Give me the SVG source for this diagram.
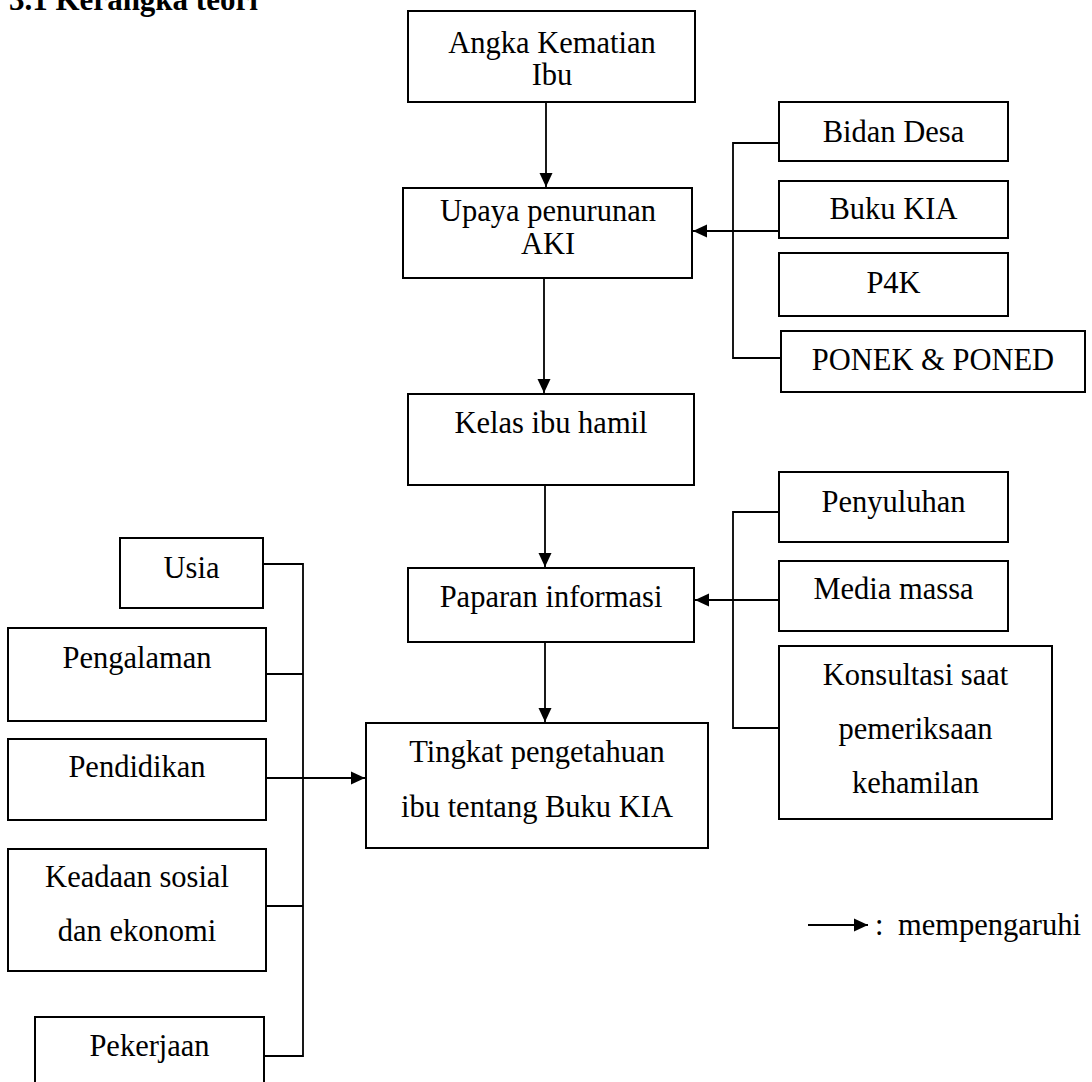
<svg xmlns="http://www.w3.org/2000/svg" width="1092" height="1082" viewBox="0 0 1092 1082">
<style>
.box{fill:#fff;stroke:#000;stroke-width:2}
.t{font-family:"Liberation Serif","Times New Roman",serif;font-size:30.5px;fill:#000;text-anchor:middle}
.ln{fill:none;stroke:#000;stroke-width:1.8}
.title{font-family:"Liberation Serif","Times New Roman",serif;font-size:31px;font-weight:bold;fill:#000}
</style>
<defs>
<marker id="ah" markerUnits="userSpaceOnUse" markerWidth="15" markerHeight="15" viewBox="0 0 15 15" refX="14" refY="7.5" orient="auto">
<path d="M0,1 L14,7.5 L0,14 Z" fill="#000"/>
</marker>
</defs>
<rect width="1092" height="1082" fill="#fff"/>
<text class="title" x="9" y="10">3.1 Kerangka teori</text>

<g id="connectors">
<line class="ln" x1="546" y1="102" x2="546" y2="187" marker-end="url(#ah)"/>
<line class="ln" x1="544" y1="278" x2="544" y2="393" marker-end="url(#ah)"/>
<line class="ln" x1="545" y1="485" x2="545" y2="567" marker-end="url(#ah)"/>
<line class="ln" x1="545" y1="642" x2="545" y2="722" marker-end="url(#ah)"/>
<polyline class="ln" points="779,143 733,143 733,358 781,358"/>
<line class="ln" x1="779" y1="231" x2="693" y2="231" marker-end="url(#ah)"/>
<polyline class="ln" points="779,512 733,512 733,728 779,728"/>
<line class="ln" x1="779" y1="600" x2="695" y2="600" marker-end="url(#ah)"/>
<polyline class="ln" points="263,564 303,564 303,1056 264,1056"/>
<line class="ln" x1="261" y1="674" x2="303" y2="674"/>
<line class="ln" x1="266" y1="906" x2="303" y2="906"/>
<line class="ln" x1="266" y1="778" x2="365" y2="778" marker-end="url(#ah)"/>
</g>

<g id="n-angka"><rect class="box" x="408" y="11" width="287" height="91"/><text class="t" x="552" y="53">Angka Kematian</text><text class="t" x="552" y="85">Ibu</text></g>
<g id="n-upaya"><rect class="box" x="403" y="188" width="289" height="90"/><text class="t" x="548" y="221">Upaya penurunan</text><text class="t" x="548" y="254">AKI</text></g>
<g id="n-kelas"><rect class="box" x="408" y="394" width="286" height="91"/><text class="t" x="551" y="433">Kelas ibu hamil</text></g>
<g id="n-paparan"><rect class="box" x="408" y="568" width="286" height="74"/><text class="t" x="551" y="607">Paparan informasi</text></g>
<g id="n-tingkat"><rect class="box" x="366" y="723" width="342" height="125"/><text class="t" x="537" y="762">Tingkat pengetahuan</text><text class="t" x="537" y="817">ibu tentang Buku KIA</text></g>

<g id="n-bidan"><rect class="box" x="779" y="102" width="229" height="59"/><text class="t" x="893.5" y="142">Bidan Desa</text></g>
<g id="n-buku"><rect class="box" x="779" y="181" width="229" height="57"/><text class="t" x="893.5" y="219">Buku KIA</text></g>
<g id="n-p4k"><rect class="box" x="779" y="253" width="229" height="63"/><text class="t" x="893.5" y="293">P4K</text></g>
<g id="n-ponek"><rect class="box" x="781" y="331" width="304" height="61"/><text class="t" x="933" y="370">PONEK &amp; PONED</text></g>

<g id="n-penyuluhan"><rect class="box" x="779" y="472" width="229" height="70"/><text class="t" x="893.5" y="512">Penyuluhan</text></g>
<g id="n-media"><rect class="box" x="779" y="561" width="229" height="70"/><text class="t" x="893.5" y="599">Media massa</text></g>
<g id="n-konsultasi"><rect class="box" x="779" y="646" width="273" height="173"/><text class="t" x="915.5" y="685">Konsultasi saat</text><text class="t" x="915.5" y="739">pemeriksaan</text><text class="t" x="915.5" y="793">kehamilan</text></g>

<g id="n-usia"><rect class="box" x="120" y="538" width="143" height="70"/><text class="t" x="191.5" y="578">Usia</text></g>
<g id="n-pengalaman"><rect class="box" x="8" y="628" width="258" height="93"/><text class="t" x="137" y="668">Pengalaman</text></g>
<g id="n-pendidikan"><rect class="box" x="8" y="739" width="258" height="81"/><text class="t" x="137" y="777">Pendidikan</text></g>
<g id="n-keadaan"><rect class="box" x="8" y="849" width="258" height="122"/><text class="t" x="137" y="887">Keadaan sosial</text><text class="t" x="137" y="941">dan ekonomi</text></g>
<g id="n-pekerjaan"><rect class="box" x="35" y="1017" width="229" height="90"/><text class="t" x="149.5" y="1056">Pekerjaan</text></g>

<g id="legend">
<line class="ln" x1="808" y1="925" x2="868" y2="925" marker-end="url(#ah)"/>
<text class="t" style="text-anchor:start" x="875" y="935">:</text>
<text class="t" style="text-anchor:end" x="1081" y="935">mempengaruhi</text>
</g>
</svg>
